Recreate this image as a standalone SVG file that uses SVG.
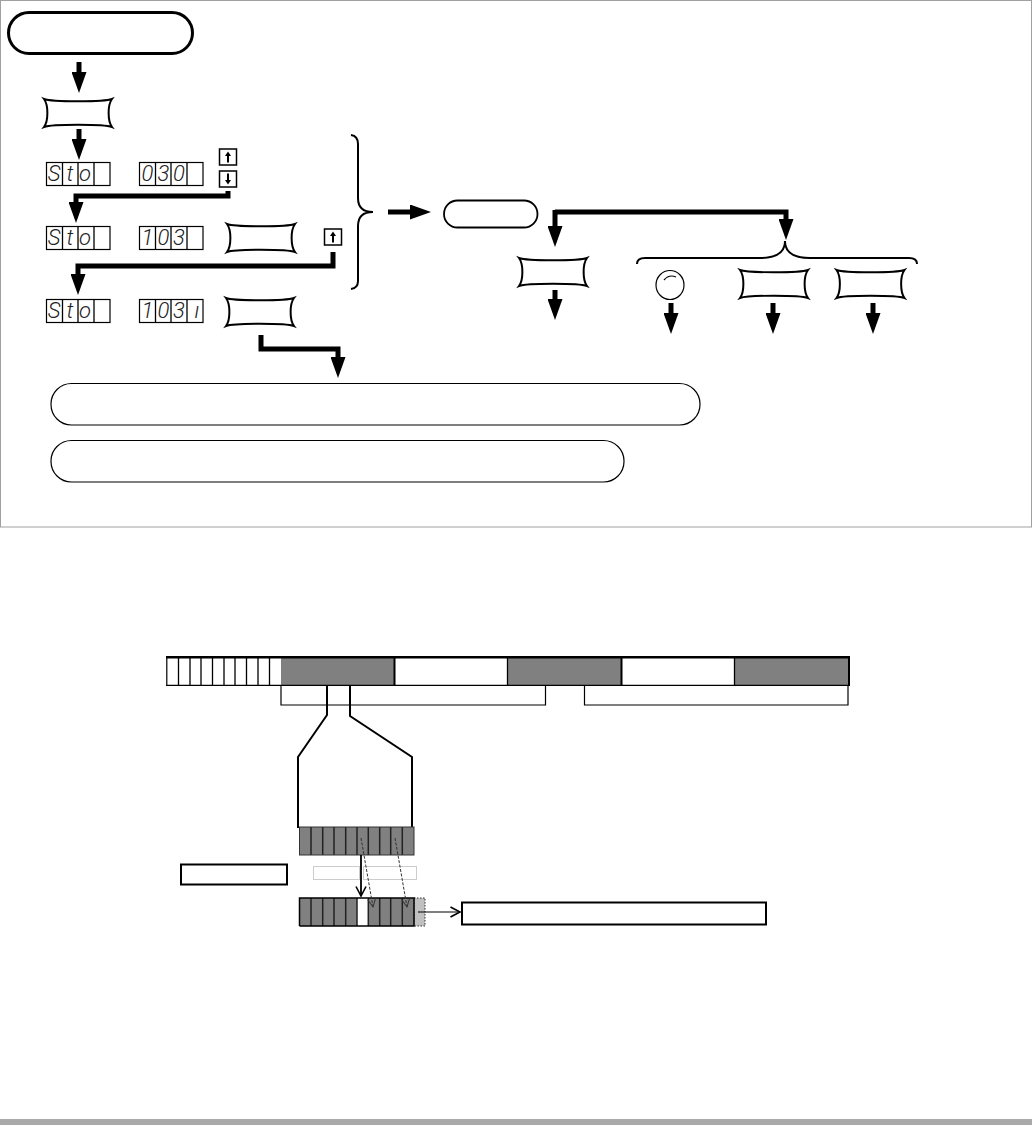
<svg xmlns="http://www.w3.org/2000/svg" width="1032" height="1125" viewBox="0 0 1032 1125">
<style>
.pill{fill:#fff;stroke:#000}
.cell{fill:#fff;stroke:#000;stroke-width:1.2}
.seg{font-family:Roboto,"Liberation Sans",Arial,sans-serif;font-style:italic;font-weight:300;font-size:22px;fill:#222;text-anchor:middle}
.thick{fill:none;stroke:#000;stroke-width:5;stroke-linejoin:miter;marker-end:url(#hd)}
.brace{fill:none;stroke:#000;stroke-width:2}
.key{fill:#fff;stroke:#000;stroke-width:1.5}
.g{fill:#808080}
.thin{fill:none;stroke:#000;stroke-width:1.2}
.mid{fill:none;stroke:#000;stroke-width:2}
.div{stroke:#000;stroke-width:1.3}
.divb{stroke:#222;stroke-width:1.5}
</style>
<defs>
<marker id="hd" viewBox="0 0 21 15" refX="1" refY="7.5" markerWidth="21" markerHeight="15" markerUnits="userSpaceOnUse" orient="auto"><path d="M0,0L21,7.5L0,15Z" fill="#000"/></marker>
<marker id="open" viewBox="0 0 12 12" refX="10.5" refY="6" markerWidth="12" markerHeight="12" markerUnits="userSpaceOnUse" orient="auto"><path d="M1,1L10.5,6L1,11" fill="none" stroke="#000" stroke-width="1.6"/></marker>
<marker id="opend" viewBox="0 0 10 10" refX="9" refY="5" markerWidth="10" markerHeight="10" markerUnits="userSpaceOnUse" orient="auto"><path d="M1,1L9,5L1,9" fill="none" stroke="#333" stroke-width="1"/></marker>
<path id="barrel" d="M0,0C8,3 60,3 68,0C63.500,6 63.500,22 68,28C60,25 8,25 0,28C4.500,22 4.500,6 0,0Z" fill="#fff" stroke="#000" stroke-width="2"/>
<g id="disp"><rect class="cell" x="0" y="0" width="63.500" height="23"/><path class="div" d="M16 0V23M31.500 0V23M47.500 0V23"/></g>
<g id="up"><rect class="key" x="0" y="0" width="17" height="16"/><path d="M8.500,2.500L11.500,7H9.500V13.500H7.500V7H5.500Z" fill="#000"/></g>
</defs>
<rect width="1032" height="1125" fill="#fff"/>
<rect x="0.500" y="0.500" width="1031" height="526.500" fill="none" stroke="#a0a0a0" stroke-width="1"/>
<rect x="0" y="1119" width="1032" height="6" fill="#a9a9a9"/>

<g id="connectors">
<path class="thick" d="M79,62V73"/>
<path class="thick" d="M79,129V140"/>
<path class="thick" d="M228,191V196H76V203"/>
<path class="thick" d="M333,252V266H78V275"/>
<path class="thick" d="M261,335V349H338V358"/>
<path class="thick" d="M388,212H411"/>
<path class="thick" d="M555,210V227"/>
<path class="thick" d="M555,212H786V220"/>
<path class="thick" d="M555,290V300"/>
<path class="thick" d="M671,303V314"/>
<path class="thick" d="M773,303V314"/>
<path class="thick" d="M873,303V314"/>
<path class="mid" d="M327,685V715L298,757V828"/>
<path class="mid" d="M350,685V716L412,757V828"/>
</g>

<g id="start"><rect class="pill" x="8.500" y="12.500" width="184" height="41" rx="20.500" stroke-width="3"/></g>
<g id="key-top"><use href="#barrel" x="44" y="99"/></g>
<g id="row1">
<use href="#disp" x="46.500" y="162.500"/><text class="seg" x="54 70 85" y="181">Sto</text>
<use href="#disp" x="139.500" y="162.500"/><text class="seg" x="147.500 163.500 179" y="181">030</text>
<use href="#up" x="219.500" y="149"/>
<use href="#up" transform="translate(219.500,187) scale(1,-1)"/>
</g>
<g id="row2">
<use href="#disp" x="46.500" y="226.500"/><text class="seg" x="54 70 85" y="245">Sto</text>
<use href="#disp" x="139.500" y="226.500"/><text class="seg" x="147.500 163.500 179" y="245">103</text>
<use href="#barrel" x="227" y="224"/>
<use href="#up" x="324.500" y="229"/>
</g>
<g id="row3">
<use href="#disp" x="46.500" y="299.500"/><text class="seg" x="54 70 85" y="318">Sto</text>
<use href="#disp" x="139.500" y="299.500"/><text class="seg" x="147.500 163.500 179 197" y="318">103ı</text>
<use href="#barrel" x="226" y="298"/>
</g>
<g id="brace-left"><path class="brace" d="M351,135Q358,136 358,144V198Q358,212 373,212Q358,212 358,226V281Q358,288 351,289"/></g>
<g id="pill-mid"><rect class="pill" x="444" y="200.500" width="93.500" height="27" rx="13.500" stroke-width="1.800"/></g>
<g id="key-a"><use href="#barrel" x="519" y="258"/></g>
<g id="brace-top"><path class="brace" d="M637,264Q637,258 645,258H760Q785,258 785,241Q785,258 810,258H909Q917,258 917,264"/></g>
<g id="dial"><ellipse cx="670" cy="285" rx="14" ry="14.500" fill="#fff" stroke="#000" stroke-width="1.200"/><path d="M664,280Q669,274 676,277" fill="none" stroke="#000" stroke-width="1.200"/></g>
<g id="key-b"><use href="#barrel" x="740" y="270"/></g>
<g id="key-c"><use href="#barrel" x="836.500" y="270"/></g>
<g id="note-1"><rect class="pill" x="51" y="383.500" width="649" height="41.500" rx="20.500" stroke-width="1.200"/></g>
<g id="note-2"><rect class="pill" x="51" y="440.500" width="573" height="41.500" rx="20.500" stroke-width="1.200"/></g>

<g id="frame-bar">
<rect x="167" y="657.500" width="681.500" height="27.500" fill="#fff"/>
<rect class="g" x="281" y="657.500" width="113" height="27.500"/>
<rect class="g" x="508" y="657.500" width="113" height="27.500"/>
<rect class="g" x="735" y="657.500" width="113" height="27.500"/>
<path stroke="#000" stroke-width="2.500" d="M166,657.200H850"/>
<path stroke="#000" stroke-width="1.200" d="M166,685.300H850M166.800,657V685.500"/>
<path class="div" d="M178.500 657V685M190 657V685M201 657V685M212.500 657V685M224 657V685M235 657V685M246.500 657V685M258 657V685M269.500 657V685M507.500 657V685M734.500 657V685"/>
<path stroke="#000" stroke-width="2" d="M394.500 657V685M621.500 657V685M849 657V686"/>
</g>
<g id="bracket-1"><path class="thin" d="M281,685V705H545.500V685"/></g>
<g id="bracket-2"><path class="thin" d="M584.500,685V705H848V685"/></g>
<g id="cells-a">
<rect class="g" x="299.500" y="827" width="114.500" height="28"/>
<path class="divb" d="M311 827V855M322.700 827V855M334 827V855M345.700 827V855M357 827V855M368.300 827V855M379.700 827V855M390.700 827V855M402.300 827V855"/>
<rect x="299.500" y="827" width="114.500" height="28" fill="none" stroke="#333" stroke-width="1"/>
</g>
<g id="label-box"><rect x="181" y="864.500" width="106" height="20" fill="#fff" stroke="#000" stroke-width="2"/></g>
<g id="ghost"><rect x="313.500" y="866.500" width="46" height="13" fill="none" stroke="#ccc" stroke-width="1"/><rect x="363.500" y="866.500" width="53" height="13" fill="none" stroke="#ccc" stroke-width="1"/></g>
<g id="cells-b">
<rect x="414" y="898" width="11" height="28" fill="#c0c0c0" stroke="#333" stroke-width="1" stroke-dasharray="1.500 1.500"/>
<rect class="g" x="299.500" y="898" width="114.500" height="28"/>
<rect x="357" y="898" width="11.500" height="28" fill="#fff"/>
<path class="divb" d="M311 898V926M322.700 898V926M334 898V926M345.700 898V926M357 898V926M368.300 898V926M379.700 898V926M390.700 898V926M402.300 898V926"/>
<path fill="none" stroke="#000" stroke-width="1.500" d="M299.500,926V898H414V926H299.500"/>
</g>
<g id="out-box"><rect x="462" y="902.500" width="304" height="22" fill="#fff" stroke="#000" stroke-width="2"/></g>
<g id="connectors-over">
<path fill="none" stroke="#000" stroke-width="1.800" marker-end="url(#open)" d="M361,855V896"/>
<path fill="none" stroke="#333" stroke-width="1" stroke-dasharray="3 1.500" marker-end="url(#opend)" d="M361,838L373,907"/>
<path fill="none" stroke="#333" stroke-width="1" stroke-dasharray="3 1.500" marker-end="url(#opend)" d="M395,838L407,907"/>
<path fill="none" stroke="#000" stroke-width="1.200" marker-end="url(#open)" d="M418,912H460"/>
</g>
</svg>
